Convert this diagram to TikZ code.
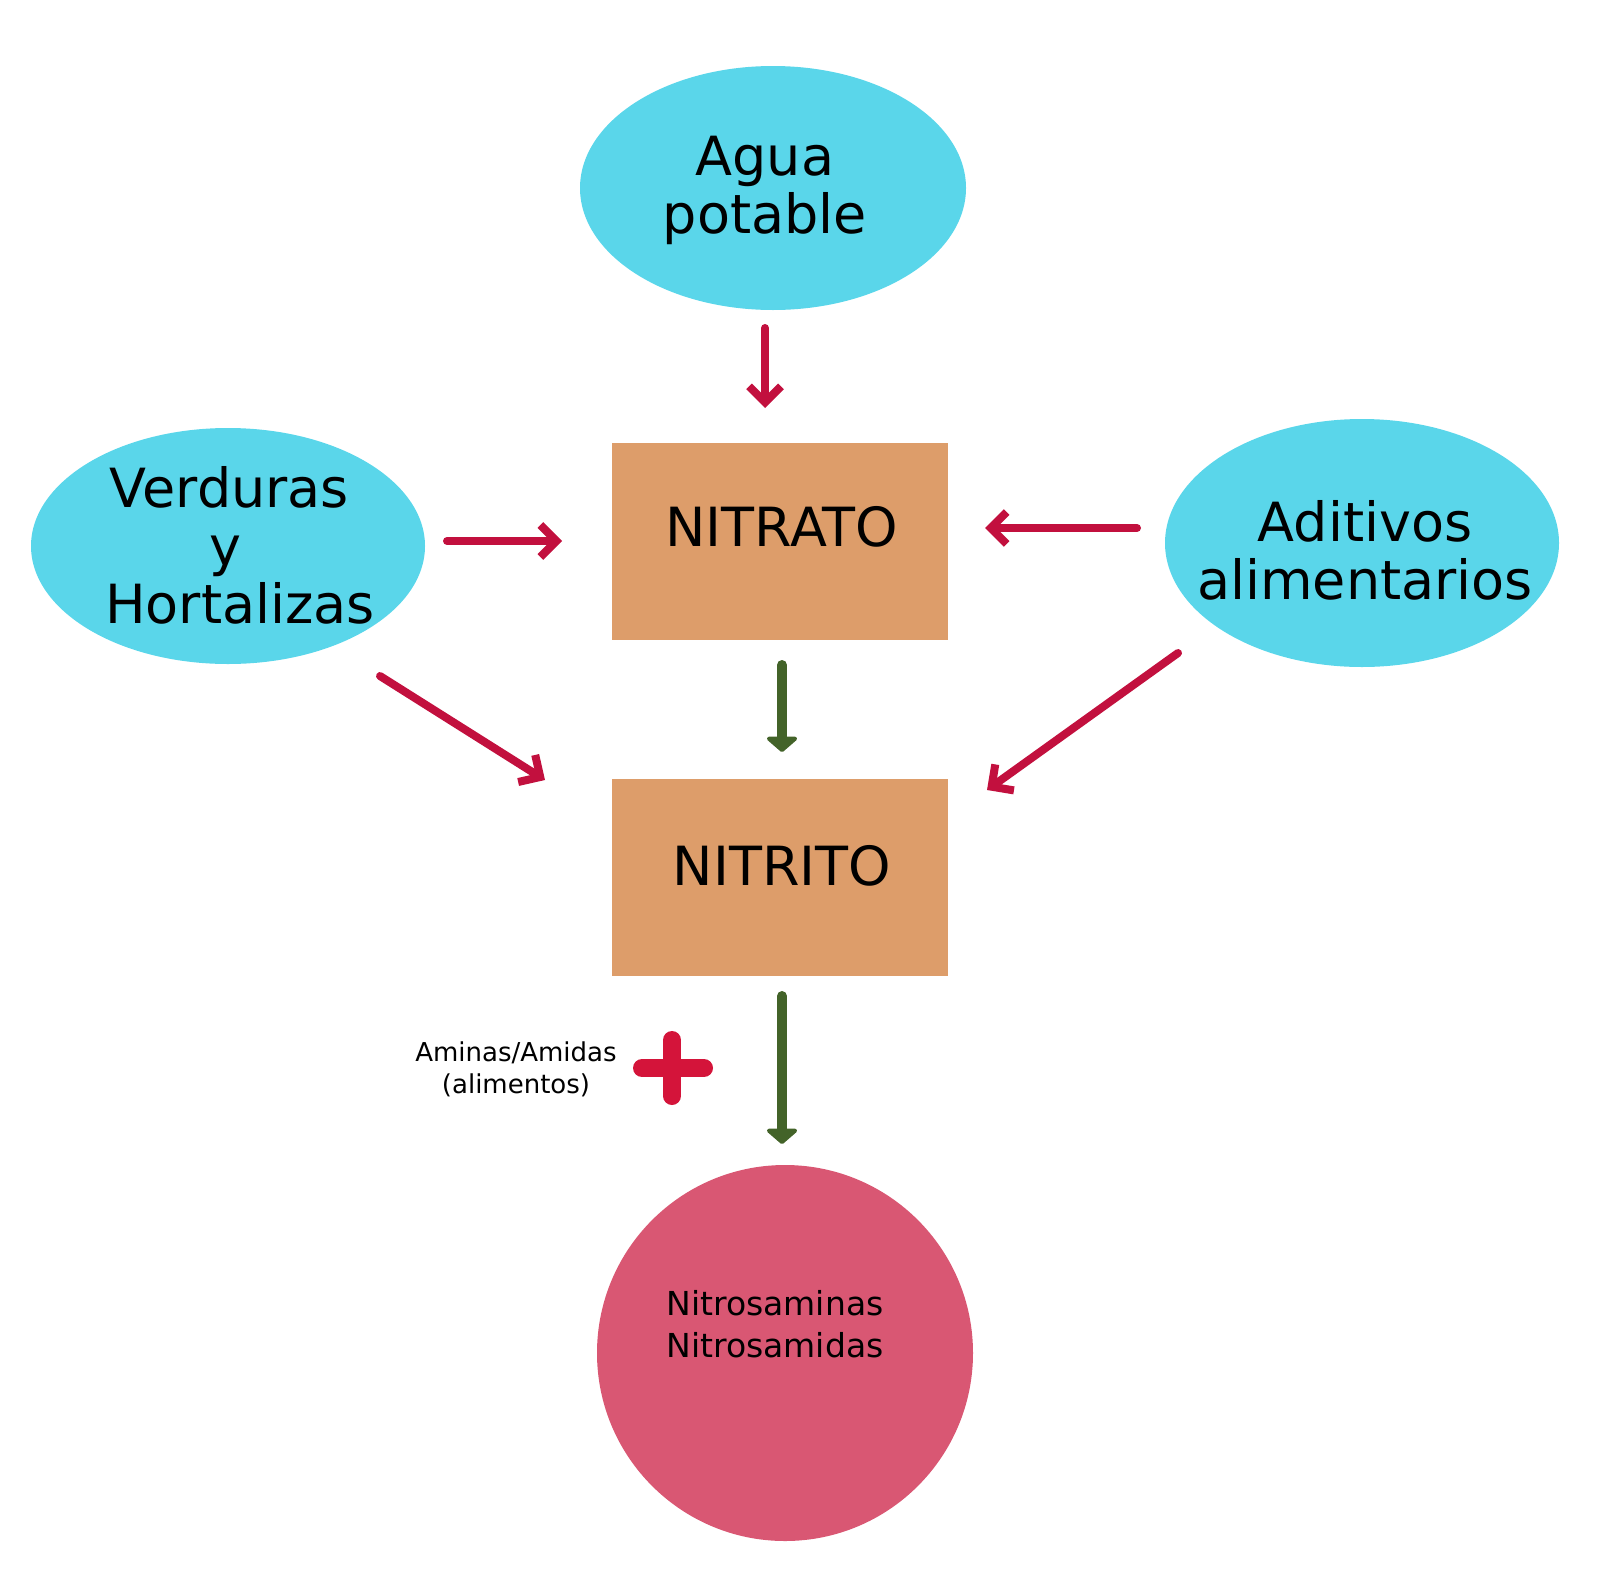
\documentclass[tikz,border=0pt]{standalone}
\usepackage{fontspec}
\setmainfont{DejaVu Sans}
\usetikzlibrary{arrows.meta,shapes.geometric}
\definecolor{cy}{HTML}{5AD6EA}
\definecolor{tan}{HTML}{DD9D6A}
\definecolor{pk}{HTML}{D95773}
\definecolor{rd}{HTML}{C2103E}
\definecolor{gr}{HTML}{436329}
\definecolor{pl}{HTML}{D4143A}
\tikzset{
 ell/.style={ellipse,fill=cy,draw=none},
 box/.style={rectangle,fill=tan,draw=none,minimum width=168pt,minimum height=98.5pt},
 big/.style={font=\fontsize{27}{31}\selectfont,align=center},
 redarr/.style={draw=rd,line width=4pt,line cap=round,-{Straight Barb[length=8pt,width=16pt,line width=4pt]}},
 grarr/.style={draw=gr,line width=5pt,line cap=round,-{Triangle[length=8pt,width=18pt,round]}},
}
\begin{document}
\begin{tikzpicture}[x=0.5pt,y=-0.5pt]
\useasboundingbox (0,0) rectangle (1600,1590);
\node[ell,minimum width=386pt*0.5,minimum height=244pt*0.5] (agua) at (773,188) {};
\node[big] (tagua) at (765,190) {Agua\\[-2pt]potable};
\node[ell,minimum width=394pt*0.5,minimum height=236pt*0.5] (verd) at (228,546) {};
\node[big] (tverd) at (225,545) {\,Verduras\\[-2pt]\,y\,\\[-2pt]\;\;Hortalizas};
\node[ell,minimum width=394pt*0.5,minimum height=248pt*0.5] (adit) at (1362,543) {};
\node[big] (tadit) at (1365,550) {Aditivos\\[-2pt]alimentarios};
\node[box] (nitrato) at (780,541.5) {};
\node[big] (tnitrato) at (782,527) {NITRATO};
\node[box] (nitrito) at (780,877.5) {};
\node[big] (tnitrito) at (782,866) {NITRITO};
\node[circle,fill=pk,minimum size=188pt] (nitros) at (785,1353) {};
\node[font=\fontsize{16.5}{21}\selectfont,align=center] (tnitros) at (775,1324) {Nitrosaminas\\Nitrosamidas};
\node[font=\fontsize{13}{16}\selectfont,align=center] (amin) at (516,1069) {Aminas/Amidas\\(alimentos)};
\coordinate (a1) at (765,328); \coordinate (a2) at (765,408);
\coordinate (b1) at (447,541); \coordinate (b2) at (562,541);
\coordinate (c1) at (1137,528); \coordinate (c2) at (985,528);
\coordinate (d1) at (380,676); \coordinate (d2) at (545,780);
\coordinate (e1) at (1178,653); \coordinate (e2) at (987,790);
\coordinate (g1) at (782,665); \coordinate (g2) at (782,752);
\coordinate (h1) at (782,996); \coordinate (h2) at (782,1144);
\draw[redarr] (a1) -- (a2);
\draw[redarr] (b1) -- (b2);
\draw[redarr] (c1) -- (c2);
\draw[redarr] (d1) -- (d2);
\draw[redarr] (e1) -- (e2);
\draw[grarr] (g1) -- (g2);
\draw[grarr] (h1) -- (h2);
\draw[pl,line width=9pt,line cap=round] (642,1068) -- (704,1068) (672,1040) -- (672,1096);
\end{tikzpicture}
\end{document}
